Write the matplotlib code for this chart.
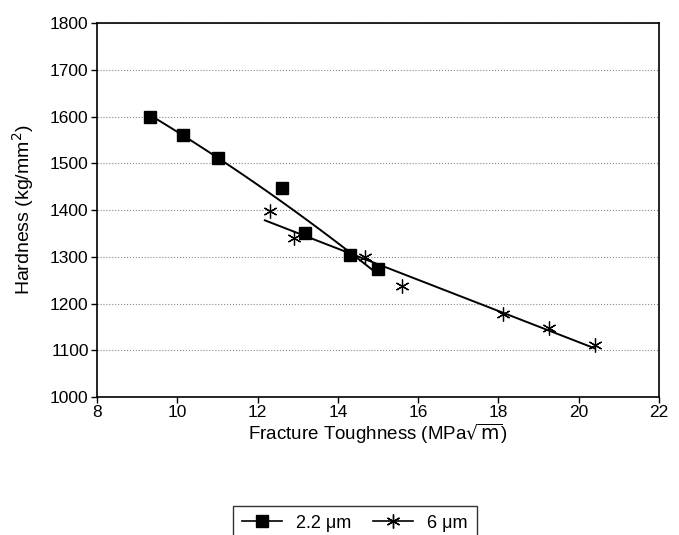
import numpy as np
import matplotlib
matplotlib.use("Agg")
import matplotlib.pyplot as plt

plt.rcParams['font.family'] = ['Liberation Sans', 'DejaVu Sans']

# Data
sq_x = [9.32, 10.14, 11.02, 12.6, 13.19, 14.29, 14.99]
sq_y = [1600, 1561, 1511, 1448, 1350, 1303, 1273]
st_x = [12.31, 12.91, 14.68, 15.6, 18.12, 19.27, 20.4]
st_y = [1397, 1341, 1300, 1238, 1178, 1147, 1111]
sq_fit_range = [9.32, 14.99]
st_fit_range = [12.18, 20.4]
x_ticks = [8, 10, 12, 14, 16, 18, 20, 22]
y_ticks = [1000, 1100, 1200, 1300, 1400, 1500, 1600, 1700, 1800]
series_labels = ['2.2 \u03bcm', '6 \u03bcm']

fig = plt.figure(figsize=(6.79, 5.35), dpi=100)
ax = fig.add_axes([0.1429, 0.2579, 0.8277, 0.699])

# trend lines
p1 = np.polyfit(sq_x, sq_y, 2)
xx1 = np.linspace(*sq_fit_range, 100)
ax.plot(xx1, np.polyval(p1, xx1), color='black', lw=1.4)
p2 = np.polyfit(st_x, st_y, 1)
xx2 = np.linspace(*st_fit_range, 100)
ax.plot(xx2, np.polyval(p2, xx2), color='black', lw=1.4)

ax.plot(sq_x, sq_y, ls='none', marker='s', ms=9, color='black')
ax.plot(st_x, st_y, ls='none', marker=(6, 2, 0), ms=10, mew=0.9, color='black')

ax.set_xlim(8, 22)
ax.set_ylim(1000, 1800)
ax.set_xticks(x_ticks)
ax.set_yticks(y_ticks)
ax.tick_params(labelsize=12.5, direction='out', length=4, width=1, pad=2)
ax.yaxis.grid(True, ls=':', color='#888888', lw=0.8)
for s in ax.spines.values():
    s.set_linewidth(1.2)
ax.set_xlabel('Fracture Toughness (MPa$\\sqrt{\\mathrm{m}}$)', fontsize=13.5, labelpad=1)
ax.set_ylabel('Hardness (kg/mm$^2$)', fontsize=14, labelpad=10)

h1, = ax.plot([], [], color='black', marker='s', ms=8, lw=1.2)
h2, = ax.plot([], [], color='black', marker=(6, 2, 0), ms=10, lw=1.2)
leg = fig.legend([h1, h2], series_labels, loc='upper center', bbox_to_anchor=(0.523, 0.072),
                 ncol=2, frameon=True, fancybox=False, edgecolor='black', fontsize=13,
                 handlelength=2.2, columnspacing=1.2, borderpad=0.5)
leg.get_frame().set_linewidth(1.0)

fig.savefig('out.png', dpi=100)
